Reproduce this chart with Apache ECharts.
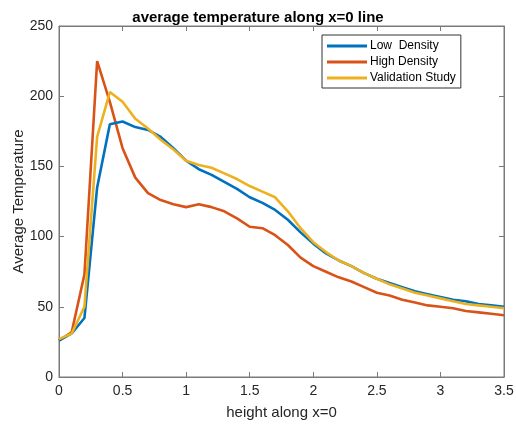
<!DOCTYPE html>
<html>
<head>
<meta charset="utf-8">
<script src="https://cdn.jsdelivr.net/npm/echarts@6/dist/echarts.min.js"></script>
<style>
html,body{margin:0;padding:0;background:#fff;}
#chart{width:516px;height:425px;}
</style>
</head>
<body>
<div id="chart"></div>
<script>
var heights = [0,0.1,0.2,0.3,0.4,0.5,0.6,0.7,0.8,0.9,1.0,1.1,1.2,1.3,1.4,1.5,1.6,1.7,1.8,1.9,2.0,2.1,2.2,2.3,2.4,2.5,2.6,2.7,2.8,2.9,3.0,3.1,3.2,3.3,3.4,3.5];
var lowDensity = [26,31,42,135,180,182,178,176,171,163,154,148,144,139,134,128,124,119,112,103,95,88,83,79,74,70,67,64,61,59,57,55,54,52,51,50];
var highDensity = [26,32,73,225,196,163,142,131,126,123,121,123,121,118,113,107,106,101,94,85,79,75,71,68,64,60,58,55,53,51,50,49,47,46,45,44];
var validation = [27,31,50,171,203,196,184,177,169,162,154,151,149,145,141,136,132,128,118,106,96,89,83,79,74,70,66,63,60,58,56,54,52,51,50,49];
var seriesNames = ['Low  Density','High Density','Validation Study'];
var titleText = 'average temperature along x=0 line';
var xLabel = 'height along x=0';
var yLabel = 'Average Temperature';

function pairs(ys){ return heights.map(function(h,i){ return [h, ys[i]]; }); }

var font = 'Liberation Sans, Arial, Helvetica, sans-serif';
var axisCol = '#7a7a7a';
var textCol = '#262626';

var tickStyle = {show:true,inside:true,length:5,lineStyle:{color:axisCol,width:1}};
var lineStyleAx = {show:true,onZero:false,lineStyle:{color:axisCol,width:1}};

var chart = echarts.init(document.getElementById('chart'), null, {renderer:'canvas'});
chart.setOption({
  animation:false,
  backgroundColor:'#fff',
  title:{text:titleText,left:'center',top:5,textStyle:{fontFamily:font,fontSize:15,fontWeight:'bold',color:'#000'}},
  grid:{left:59,right:12,top:26,bottom:48,containLabel:false,outerBoundsMode:'none',show:true,borderColor:axisCol,borderWidth:1,backgroundColor:'transparent'},
  legend:{
    orient:'vertical',left:322,top:35,
    icon:'rect',itemWidth:40,itemHeight:3,itemGap:4,
    padding:[5,5,4,5],
    borderColor:'#333',borderWidth:1,backgroundColor:'#fff',
    textStyle:{fontFamily:font,fontSize:12,color:'#000',padding:[0,0,0,-2]},
    data:seriesNames
  },
  xAxis:[{
    type:'value',min:0,max:3.5,interval:0.5,position:'bottom',
    name:xLabel,nameLocation:'middle',nameGap:28,nameMoveOverlap:false,
    nameTextStyle:{fontFamily:font,fontSize:15,color:textCol},
    axisLine:lineStyleAx,
    axisTick:tickStyle,
    axisLabel:{fontFamily:font,fontSize:14,color:textCol,margin:7},
    splitLine:{show:false}
  },{
    type:'value',min:0,max:3.5,interval:0.5,position:'top',
    axisLine:lineStyleAx,
    axisTick:tickStyle,
    axisLabel:{show:false},splitLine:{show:false}
  }],
  yAxis:[{
    type:'value',min:0,max:250,interval:50,position:'left',
    name:yLabel,nameLocation:'middle',nameGap:33,nameMoveOverlap:false,
    nameTextStyle:{fontFamily:font,fontSize:15,color:textCol},
    axisLine:lineStyleAx,
    axisTick:tickStyle,
    axisLabel:{fontFamily:font,fontSize:14,color:textCol,margin:6},
    splitLine:{show:false}
  },{
    type:'value',min:0,max:250,interval:50,position:'right',
    axisLine:lineStyleAx,
    axisTick:tickStyle,
    axisLabel:{show:false},splitLine:{show:false}
  }],
  series:[
    {name:seriesNames[0],type:'line',data:pairs(lowDensity),symbol:'none',lineStyle:{color:'#0072BD',width:2.6},itemStyle:{color:'#0072BD'},z:3},
    {name:seriesNames[1],type:'line',data:pairs(highDensity),symbol:'none',lineStyle:{color:'#D95319',width:2.6},itemStyle:{color:'#D95319'},z:2},
    {name:seriesNames[2],type:'line',data:pairs(validation),symbol:'none',lineStyle:{color:'#EDB120',width:2.6},itemStyle:{color:'#EDB120'},z:4},
    {type:'line',xAxisIndex:1,yAxisIndex:1,data:[],silent:true}
  ]
});
</script>
</body>
</html>
